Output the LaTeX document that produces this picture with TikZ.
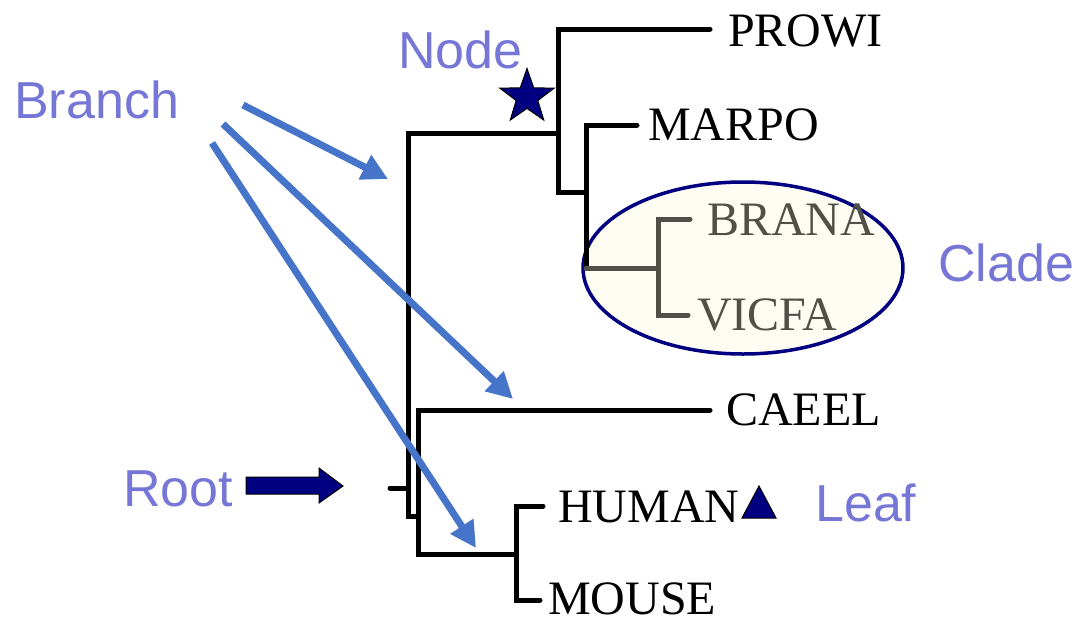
\documentclass[tikz,border=0pt]{standalone}
\usepackage{fontspec}
\setmainfont{Liberation Serif}
\newfontfamily\arialf{Liberation Sans}
\usetikzlibrary{arrows.meta,shapes.geometric}
\definecolor{lblue}{RGB}{118,118,214}
\definecolor{abl}{RGB}{70,116,200}
\definecolor{navyc}{RGB}{0,0,128}
\definecolor{grayl}{RGB}{80,80,72}
\definecolor{ivory}{RGB}{253,253,244}
\tikzset{
  br/.style={line width=5pt, line cap=round, line join=miter, black},
  brg/.style={br, grayl},
  leaf/.style={font=\fontsize{48}{50}\selectfont, anchor=base west, inner sep=0pt, text depth=0pt},
  lab/.style={font=\arialf\fontsize{52}{54}\selectfont, text=lblue, anchor=base west, inner sep=0pt},
  barrow/.style={line width=7pt, abl, -{Triangle[length=26pt,width=26pt]}},
}
\begin{document}
\begin{tikzpicture}[x=1pt,y=-1pt]
\useasboundingbox (0,0) rectangle (1080,619);
% clade ellipse
\draw[navyc, line width=3.5pt, fill=ivory] (743,268) ellipse [x radius=160, y radius=86];
% tree coordinates
\coordinate (r0) at (390,488);
\coordinate (n1) at (408,488);
\coordinate (n2) at (558,133);
\coordinate (n3) at (586,192);
\coordinate (n4) at (658,268);
\coordinate (n5) at (418,516);
\coordinate (n6) at (516,554);
\coordinate (eP) at (710,29);
\coordinate (eM) at (637,125);
\coordinate (eB) at (690,219);
\coordinate (eV) at (688,315);
\coordinate (eC) at (710,410);
\coordinate (eH) at (543,506);
\coordinate (eMo) at (540,600);
% branches
\draw[br] (r0) -- (n1);
\draw[br] (n2) -- (408,133) -- (408,516) -- (n5);
\draw[br] (eP) -- (558,29) -- (558,192) -- (n3);
\draw[br] (eM) -- (586,125) -- (586,268);
\draw[brg] (586,268) -- (n4);
\draw[brg] (eB) -- (658,219) -- (658,315) -- (eV);
\draw[br] (eC) -- (418,410) -- (418,554) -- (n6);
\draw[br] (eH) -- (516,506) -- (516,600) -- (eMo);
% leaf labels
\node[leaf] (PROWI) at (728,46) {PROWI};
\node[leaf] (MARPO) at (648,140) {MARPO};
\node[leaf, text=grayl] (BRANA) at (707,235) {BRANA};
\node[leaf, text=grayl] (VICFA) at (697,330) {VICFA};
\node[leaf] (CAEEL) at (726,425) {CAEEL};
\node[leaf] (HUMAN) at (558,522) {HUMAN};
\node[leaf] (MOUSE) at (548,614) {MOUSE};
% blue labels
\node[lab] (Branch) at (14,118) {Branch};
\node[lab] (Node) at (398,68) {Node};
\node[lab] (Clade) at (938,281) {Clade};
\node[lab] (Root) at (123,506) {Root};
\node[lab] (Leaf) at (815,521) {Leaf};
% star and triangle
\node[star, star points=5, star point ratio=2.5, minimum size=57pt, inner sep=0pt, fill=navyc, draw=black, line width=1pt] (star) at (527,97) {};
\draw[fill=navyc, draw=black, line width=1pt] (742,518) -- (759,486) -- (776,518) -- cycle;
% root arrow
\draw[fill=navyc, draw=black, line width=1pt] (246,477) -- (319,477) -- (319,468) -- (343,486) -- (319,503) -- (319,494) -- (246,494) -- cycle;
% branch arrows
\coordinate (a1s) at (243,105);
\coordinate (a1e) at (388,179);
\coordinate (a2s) at (223,124);
\coordinate (a2e) at (513,399);
\coordinate (a3s) at (212,143);
\coordinate (a3e) at (476,548);
\draw[barrow] (a1s) -- (a1e);
\draw[barrow] (a2s) -- (a2e);
\draw[barrow] (a3s) -- (a3e);
\end{tikzpicture}
\end{document}
